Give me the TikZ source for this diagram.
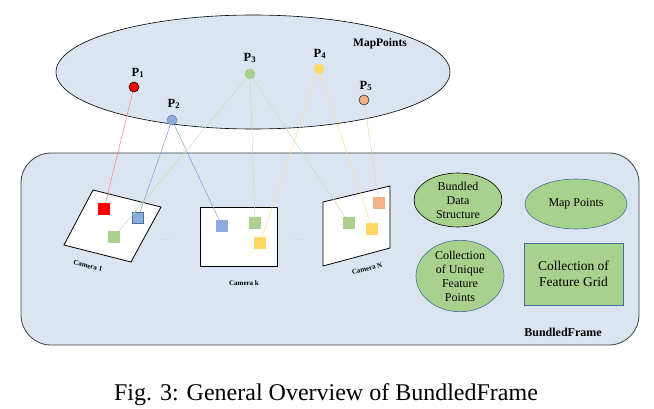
\documentclass[tikz,border=0pt]{standalone}
\usepackage{fontspec}
\setmainfont{Liberation Serif}
\usetikzlibrary{shapes.geometric}
\definecolor{bgblue}{HTML}{DAE5F1}
\definecolor{pred}{HTML}{FF0000}
\definecolor{pblue}{HTML}{8FAADC}
\definecolor{pgreen}{HTML}{A9D18E}
\definecolor{pyellow}{HTML}{FFD966}
\definecolor{porange}{HTML}{F4B183}
\definecolor{lred}{HTML}{FF7C80}
\definecolor{lblue}{HTML}{7F9FD6}
\definecolor{lgreen}{HTML}{C5E0B4}
\definecolor{lyellow}{HTML}{FFE08A}
\definecolor{lorange}{HTML}{F8CBAD}
\definecolor{edgeblue}{HTML}{41719C}
\tikzset{
  mp/.style={circle,minimum size=10pt,inner sep=0pt,line width=0.6pt},
  plab/.style={font=\fontsize{12.5}{12.5}\selectfont\bfseries,inner sep=0pt},
  sq/.style={minimum size=12pt,inner sep=0pt,draw=none},
  camlab/.style={font=\fontsize{7}{7}\selectfont\bfseries,inner sep=0pt},
  link/.style={line width=0.5pt},
  info/.style={fill=pgreen,align=center,font=\fontsize{12}{14}\selectfont,inner sep=0pt,line width=0.6pt},
}
\begin{document}
\begin{tikzpicture}[x=1pt,y=-1pt]
\useasboundingbox (0,0) rectangle (654,409);
% BundledFrame container
\draw[fill=bgblue,draw=black!75,line width=0.8pt,rounded corners=30pt] (21,153) rectangle (639,345);
\node[font=\fontsize{12}{12}\selectfont\bfseries] (bflab) at (563,332) {BundledFrame};
% MapPoints ellipse
\node[ellipse,draw=black,fill=bgblue,line width=0.6pt,minimum width=394pt,minimum height=114pt,inner sep=0pt] (mapell) at (253,72) {};
\node[font=\fontsize{11.5}{11.5}\selectfont\bfseries] (mplab) at (380,44) {MapPoints};
% cameras
\draw[fill=white,line width=0.8pt] (93,190) -- (161,207) -- (131,262) -- (64,245) -- cycle;
\draw[fill=white,line width=1pt] (200,208) rectangle (277,266);
\draw[fill=white,line width=0.8pt] (323,202) -- (390,186) -- (390,248) -- (323,266) -- cycle;
\node[camlab,rotate=-14] (c1lab) at (88,266) {Camera 1};
\node[camlab] (cklab) at (244,283) {Camera k};
\node[camlab,rotate=14] (cnlab) at (367,269) {Camera N};
\node[text=pblue!80,font=\fontsize{8}{8}\selectfont] (dots1) at (167,240) {. . .};
\node[text=pblue!80,font=\fontsize{8}{8}\selectfont] (dots2) at (298,240) {. . .};
% feature squares
\node[sq,fill=pred] (r1) at (104,209) {};
\node[sq,fill=pblue,draw=edgeblue,line width=0.8pt,minimum size=11pt] (b1) at (138,218) {};
\node[sq,fill=pgreen] (g1) at (114,237) {};
\node[sq,fill=pblue] (bk) at (222,226) {};
\node[sq,fill=pgreen] (gk) at (255,223) {};
\node[sq,fill=pyellow] (yk) at (260,243) {};
\node[sq,fill=pgreen] (gn) at (349,223) {};
\node[sq,fill=pyellow] (yn) at (372,229) {};
\node[sq,fill=porange] (on) at (379,203) {};
% map points
\node[mp,fill=pred,draw=black] (p1) at (134,87) {};
\node[mp,fill=pblue,draw=pblue!80!black] (p2) at (172,120) {};
\node[mp,fill=pgreen,draw=pgreen] (p3) at (250,74) {};
\node[mp,fill=pyellow,draw=pyellow] (p4) at (319,69) {};
\node[mp,fill=porange,draw=black!80] (p5) at (364,100) {};
\node[plab] (l1) at (138,73) {P$_\mathbf{1}$};
\node[plab] (l2) at (174,104) {P$_\mathbf{2}$};
\node[plab] (l3) at (250,58) {P$_\mathbf{3}$};
\node[plab] (l4) at (320,54) {P$_\mathbf{4}$};
\node[plab] (l5) at (366,86) {P$_\mathbf{5}$};
% links
\draw[link,lred] (p1) -- (r1);
\draw[link,lblue] (p2) -- (b1);
\draw[link,lblue] (p2) -- (bk);
\draw[link,lgreen] (p3) -- (g1);
\draw[link,lgreen] (p3) -- (gk);
\draw[link,lgreen] (p3) -- (gn);
\draw[link,lyellow] (p4) -- (yk);
\draw[link,lyellow] (p4) -- (yn);
\draw[link,lorange] (p5) -- (on);
% right side info shapes
\node[info,ellipse,draw=black,minimum width=88pt,minimum height=54pt] (bds) at (458,200) {Bundled\\Data\\Structure};
\node[info,ellipse,draw=edgeblue,minimum width=102pt,minimum height=50pt] (mpts) at (576,204) {Map Points};
\node[info,ellipse,draw=edgeblue,minimum width=88pt,minimum height=58pt] (cufp) at (460,276) {Collection\\of Unique\\Feature\\Points};
\node[info,rectangle,draw=edgeblue,minimum width=99pt,minimum height=62pt,font=\fontsize{13.5}{16}\selectfont] (cfg) at (573.5,274) {Collection of\\Feature Grid};
% caption
\node[font=\fontsize{24}{24}\selectfont,anchor=base] (cap) at (326,400) {Fig. 3: General Overview of BundledFrame};
\end{tikzpicture}
\end{document}
